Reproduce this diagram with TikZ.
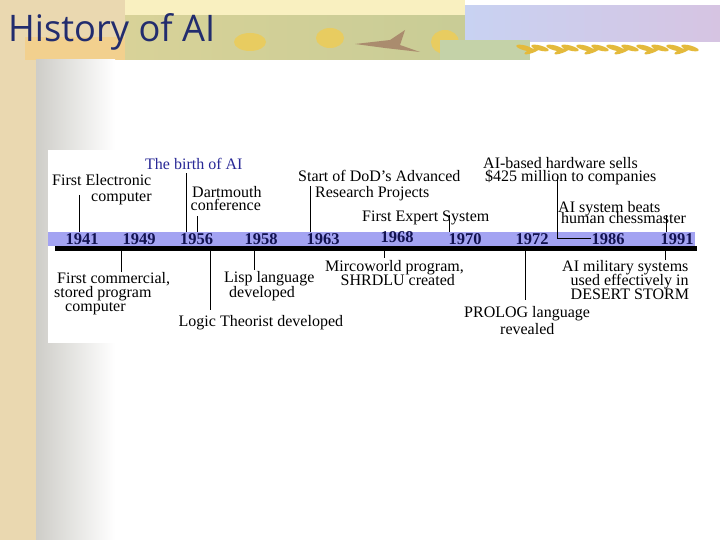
\documentclass[tikz,border=0pt]{standalone}
\usepackage{fontspec}
\setmainfont{Liberation Serif}
\newfontfamily\titlefont{Open Sans}
\usepackage{graphicx}
\definecolor{barblue}{RGB}{163,163,242}
\definecolor{yearblue}{RGB}{18,18,80}
\definecolor{birthblue}{RGB}{40,40,150}
\definecolor{titleblue}{RGB}{34,44,110}
\definecolor{parch}{RGB}{234,216,176}
\definecolor{bandorange}{RGB}{242,208,142}
\definecolor{paleyellow}{RGB}{249,240,192}
\definecolor{oliveA}{RGB}{216,210,152}
\definecolor{oliveB}{RGB}{200,204,150}
\definecolor{blueA}{RGB}{200,210,242}
\definecolor{blueB}{RGB}{214,196,226}
\definecolor{greenpatch}{RGB}{196,210,168}
\definecolor{gold}{RGB}{228,186,60}
\definecolor{petal}{RGB}{232,204,96}
\definecolor{bird}{RGB}{170,140,110}
\definecolor{slidegray}{RGB}{206,205,200}
\begin{document}
\begin{tikzpicture}[x=1pt,y=-1pt,
  lab/.style={font=\fontsize{16}{15}\selectfont, inner sep=0pt, anchor=base west},
  yr/.style={font=\fontsize{16.5}{16}\selectfont\bfseries, text=yearblue, inner sep=0pt, anchor=base},
  conn/.style={black, line width=0.8pt}]
\useasboundingbox (0,0) rectangle (720,540);
% ---------- background ----------
\fill[white] (0,0) rectangle (720,540);
\fill[parch] (0,0) rectangle (36,540);
\fill[parch] (0,0) rectangle (130,60);
\fill[bandorange] (25,37) rectangle (140,60);
\fill[paleyellow] (125,0) rectangle (465,16);
\shade[left color=oliveA, right color=oliveB] (125,16) rectangle (470,60);
\fill[petal] (250,42) ellipse (16 and 9);
\fill[petal] (330,38) ellipse (14 and 10);
\fill[petal] (445,42) ellipse (14 and 12);
\fill[bird] (385,48) -- (355,44) -- (390,40) -- (405,30) -- (400,45) -- (420,52) -- cycle;
\fill[white] (465,0) rectangle (720,6);
\shade[left color=blueA, right color=blueB] (465,6) rectangle (720,42);
\fill[greenpatch] (440,40) rectangle (530,60);
\fill[white] (530,42) rectangle (720,60);
\foreach \gx in {525,540,555,570,585,600,615,630,645,660,675,690}
  \fill[gold, rotate around={-15:(\gx,48)}] (\gx,48) ellipse (9 and 2.5);
\foreach \gx in {532,562,592,622,652,682}
  \fill[gold, rotate around={20:(\gx,51)}] (\gx,51) ellipse (8 and 2);
\fill[white] (36,60) rectangle (720,540);
\shade[left color=slidegray, right color=white] (36,60) rectangle (115,540);
\node[font=\titlefont, text=titleblue, inner sep=0pt, anchor=north west] (title) at (8,13)
  {\resizebox{207pt}{28pt}{History of AI}};
% ---------- picture box ----------
\fill[white] (48,150) rectangle (697,343);
\fill[black] (55,246) rectangle (697,250.5);
\node[fill=barblue, minimum width=647pt, minimum height=14pt, inner sep=0pt] (bar) at (371.5,239) {};
% ---------- years ----------
\node[yr] (y41) at (82,244) {1941};
\node[yr] (y49) at (139,244) {1949};
\node[yr] (y56) at (196.5,244) {1956};
\node[yr] (y58) at (261,244) {1958};
\node[yr] (y63) at (323,244) {1963};
\node[yr] (y68) at (397,242) {1968};
\node[yr] (y70) at (465,244) {1970};
\node[yr] (y72) at (532,244) {1972};
\node[yr] (y86) at (608,244) {1986};
\node[yr] (y91) at (677,244) {1991};
% ---------- labels above ----------
\node[lab, text=birthblue] (birth) at (145,170) {The birth of AI};
\node[lab] (fe1) at (52,186) {First Electronic};
\node[lab] (fe2) at (91,201.5) {computer};
\node[lab] (dm1) at (192,198) {Dartmouth};
\node[lab] (dm2) at (190.5,211) {conference};
\node[lab] (dod1) at (298,182) {Start of DoD's Advanced};
\node[lab] (dod2) at (315,197) {Research Projects};
\node[lab] (hw1) at (483,168.5) {AI-based hardware sells};
\node[lab] (hw2) at (485,182) {\$425 million to companies};
\node[lab] (fes) at (362,222) {First Expert System};
\node[lab] (ch1) at (558,213) {AI system beats};
\node[lab] (ch2) at (561,223.5) {human chessmaster};
% ---------- labels below ----------
\node[lab] (fc1) at (57,283.5) {First commercial,};
\node[lab] (fc2) at (54,297.5) {stored program};
\node[lab] (fc3) at (65,311) {computer};
\node[lab] (lisp1) at (224,282) {Lisp language};
\node[lab] (lisp2) at (229,297) {developed};
\node[lab] (logic) at (178.5,326) {Logic Theorist developed};
\node[lab] (mw1) at (325,271) {Mircoworld program,};
\node[lab] (mw2) at (340.5,285) {SHRDLU created};
\node[lab] (pl1) at (464,317) {PROLOG language};
\node[lab] (pl2) at (500,334) {revealed};
\node[lab] (mil1) at (562,271) {AI military systems};
\node[lab] (mil2) at (570.5,285) {used effectively in};
\node[lab] (mil3) at (570.5,299.5) {DESERT STORM};
% ---------- connectors above ----------
\coordinate (k41) at (79.3,195);
\coordinate (kbirth) at (186.7,173.5);
\coordinate (kdm) at (197.3,216.5);
\coordinate (kdod) at (310,186.5);
\coordinate (kfes) at (449.3,215.5);
\coordinate (khw) at (557.3,177);
\coordinate (kch) at (666.7,215.5);
\draw[conn] (k41) -- (k41 |- bar.north);
\draw[conn] (kbirth) -- (kbirth |- bar.north);
\draw[conn] (kdm) -- (kdm |- bar.north);
\draw[conn] (kdod) -- (kdod |- bar.north);
\draw[conn] (kfes) -- (kfes |- bar.north);
\draw[conn] (kch) -- (kch |- bar.north);
\draw[conn] (khw) |- (y86.west);
% ---------- connectors below ----------
\coordinate (b49) at (121,272);
\coordinate (blogic) at (210.7,310);
\coordinate (blisp) at (254,270);
\coordinate (bmw) at (384.3,258);
\coordinate (bpl) at (525.7,300);
\coordinate (bmil) at (665,260);
\draw[conn] (bar.south -| b49) -- (b49);
\draw[conn] (bar.south -| blogic) -- (blogic);
\draw[conn] (bar.south -| blisp) -- (blisp);
\draw[conn] (bar.south -| bmw) -- (bmw);
\draw[conn] (bar.south -| bpl) -- (bpl);
\draw[conn] (bar.south -| bmil) -- (bmil);
\end{tikzpicture}
\end{document}
